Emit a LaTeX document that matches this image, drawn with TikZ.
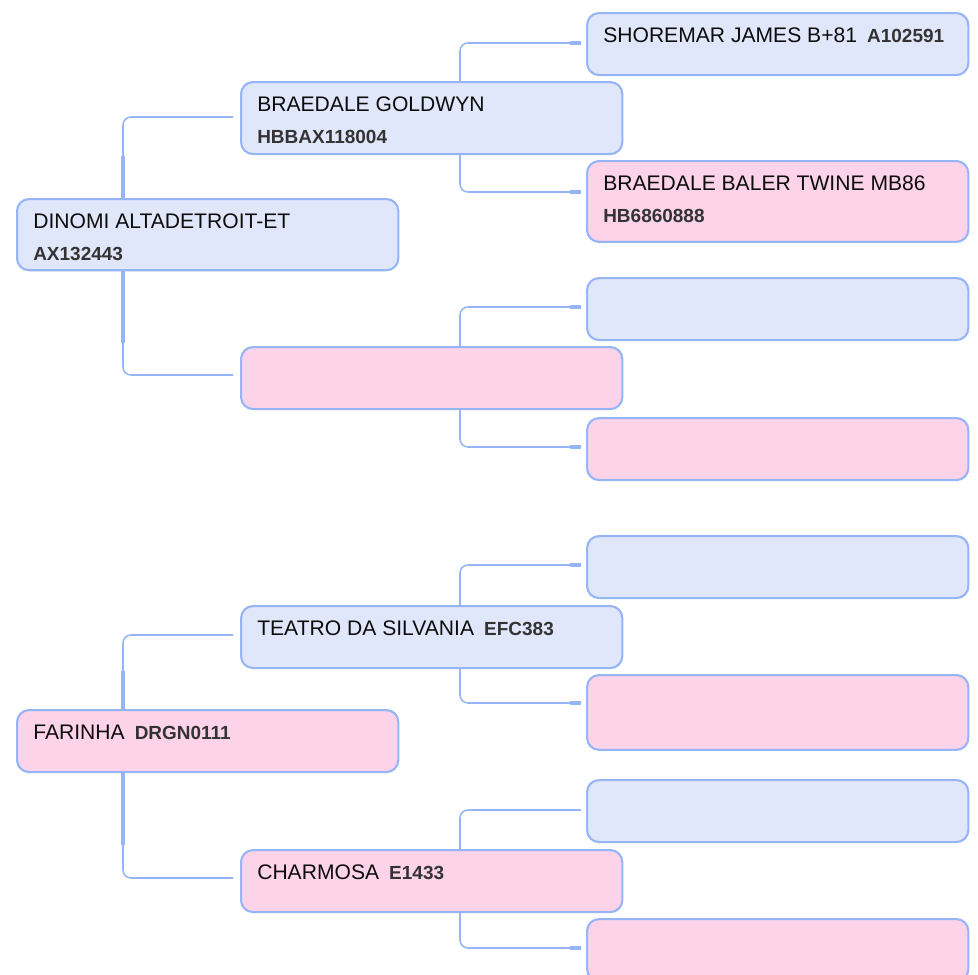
\documentclass[tikz,border=0pt]{standalone}
\usepackage{fontspec}
\setmainfont{Liberation Sans}
\usepackage{xcolor}
\usepackage{tikz}
\usetikzlibrary{positioning,calc}

\definecolor{sireblue}{RGB}{225,231,250}
\definecolor{dampink}{RGB}{253,211,234}
\definecolor{edgeblue}{RGB}{150,181,246}
\definecolor{idgray}{RGB}{51,51,51}

\newcommand{\namefont}{\fontsize{15}{18}\selectfont}
\newcommand{\regfont}{\fontsize{13.5}{16}\selectfont\bfseries}
\newcommand{\regno}[1]{\hspace{0.2em}{\regfont\color{idgray}#1}}

\begin{document}
\begin{tikzpicture}[x=0.025cm, y=-0.025cm,
    box/.style={draw=edgeblue, line width=1.5pt, rounded corners=0.3cm, anchor=north west,
      minimum width=9.53cm, minimum height=1.55cm, inner sep=0pt},
    sire/.style={box, fill=sireblue},
    dam/.style={box, fill=dampink},
    tag/.style={anchor=base west, inner sep=0pt, font=\namefont, text=black!95},
    regline/.style={anchor=base west, inner sep=0pt, font=\regfont, text=idgray},
    link/.style={draw=edgeblue, line width=1.1pt, rounded corners=0.2cm},
    stub/.style={draw=edgeblue, line width=2.4pt}]

\useasboundingbox (0,0) rectangle (978,974);

% First generation
\node[sire, minimum height=1.78cm] (dinomi) at (16,198) {};
\node[tag] (dinomi-name) at ($(dinomi.north west)+(17,30)$) {DINOMI ALTADETROIT-ET};
\node[regline] (dinomi-reg) at ($(dinomi.north west)+(17,62)$) {AX132443};

\node[dam] (farinha) at (16,709) {};
\node[tag] (farinha-name) at ($(farinha.north west)+(17,30)$) {FARINHA \regno{DRGN0111}};

% Second generation
\node[sire, minimum height=1.8cm] (goldwyn) at (240,81) {};
\node[tag] (goldwyn-name) at ($(goldwyn.north west)+(17,30)$) {BRAEDALE GOLDWYN};
\node[regline] (goldwyn-reg) at ($(goldwyn.north west)+(17,62)$) {HBBAX118004};

\node[dam] (dinomidam) at (240,346) {};

\node[sire] (teatro) at (240,605) {};
\node[tag] (teatro-name) at ($(teatro.north west)+(17,30)$) {TEATRO DA SILVANIA \regno{EFC383}};

\node[dam] (charmosa) at (240,849) {};
\node[tag] (charmosa-name) at ($(charmosa.north west)+(17,30)$) {CHARMOSA \regno{E1433}};

% Third generation
\node[sire] (shoremar) at (586,12) {};
\node[tag] (shoremar-name) at ($(shoremar.north west)+(17,30)$) {SHOREMAR JAMES B+81 \regno{A102591}};

\node[dam, minimum height=2.02cm] (baler) at (586,160) {};
\node[tag] (baler-name) at ($(baler.north west)+(17,30)$) {BRAEDALE BALER TWINE MB86};
\node[regline] (baler-reg) at ($(baler.north west)+(17,62)$) {HB6860888};

\node[sire] (ggsire2) at (586,277) {};
\node[dam] (ggdam2) at (586,417) {};
\node[sire] (ggsire3) at (586,535) {};
\node[dam, minimum height=1.87cm] (ggdam3) at (586,674) {};
\node[sire] (ggsire4) at (586,779) {};
\node[dam] (ggdam4) at (586,918) {};

% Links to parents of Dinomi
\draw[link] ($(dinomi.north west)+(107,0)$) |- ($(goldwyn.north west)+(-7,36)$);
\draw[stub] ($(dinomi.north west)+(107,0)$) -- ++(0,-42);
\draw[link] ($(dinomi.south west)+(107,0)$) |- ($(dinomidam.north west)+(-7,29)$);
\draw[stub] ($(dinomi.south west)+(107,0)$) -- ++(0,72);

% Links to parents of Farinha
\draw[link] ($(farinha.north west)+(107,0)$) |- ($(teatro.north west)+(-7,30)$);
\draw[stub] ($(farinha.north west)+(107,0)$) -- ++(0,-38);
\draw[link] ($(farinha.south west)+(107,0)$) |- ($(charmosa.north west)+(-7,29)$);
\draw[stub] ($(farinha.south west)+(107,0)$) -- ++(0,72);

% Links to third generation
\draw[link] ($(goldwyn.north west)+(220,0)$) |- ($(shoremar.north west)+(-5,31)$);
\draw[stub] ($(shoremar.north west)+(-5,31)$) -- ++(-11,0);
\draw[link] ($(goldwyn.south west)+(220,0)$) |- ($(baler.north west)+(-5,32)$);
\draw[stub] ($(baler.north west)+(-5,32)$) -- ++(-11,0);

\draw[link] ($(dinomidam.north west)+(220,0)$) |- ($(ggsire2.north west)+(-5,30)$);
\draw[stub] ($(ggsire2.north west)+(-5,30)$) -- ++(-11,0);
\draw[link] ($(dinomidam.south west)+(220,0)$) |- ($(ggdam2.north west)+(-5,30)$);
\draw[stub] ($(ggdam2.north west)+(-5,30)$) -- ++(-11,0);

\draw[link] ($(teatro.north west)+(220,0)$) |- ($(ggsire3.north west)+(-5,30)$);
\draw[stub] ($(ggsire3.north west)+(-5,30)$) -- ++(-11,0);
\draw[link] ($(teatro.south west)+(220,0)$) |- ($(ggdam3.north west)+(-5,29)$);
\draw[stub] ($(ggdam3.north west)+(-5,29)$) -- ++(-11,0);

\draw[link] ($(charmosa.north west)+(220,0)$) |- ($(ggsire4.north west)+(-5,31)$);
\draw[link] ($(charmosa.south west)+(220,0)$) |- ($(ggdam4.north west)+(-5,30)$);
\draw[stub] ($(ggdam4.north west)+(-5,30)$) -- ++(-11,0);

\end{tikzpicture}
\end{document}
